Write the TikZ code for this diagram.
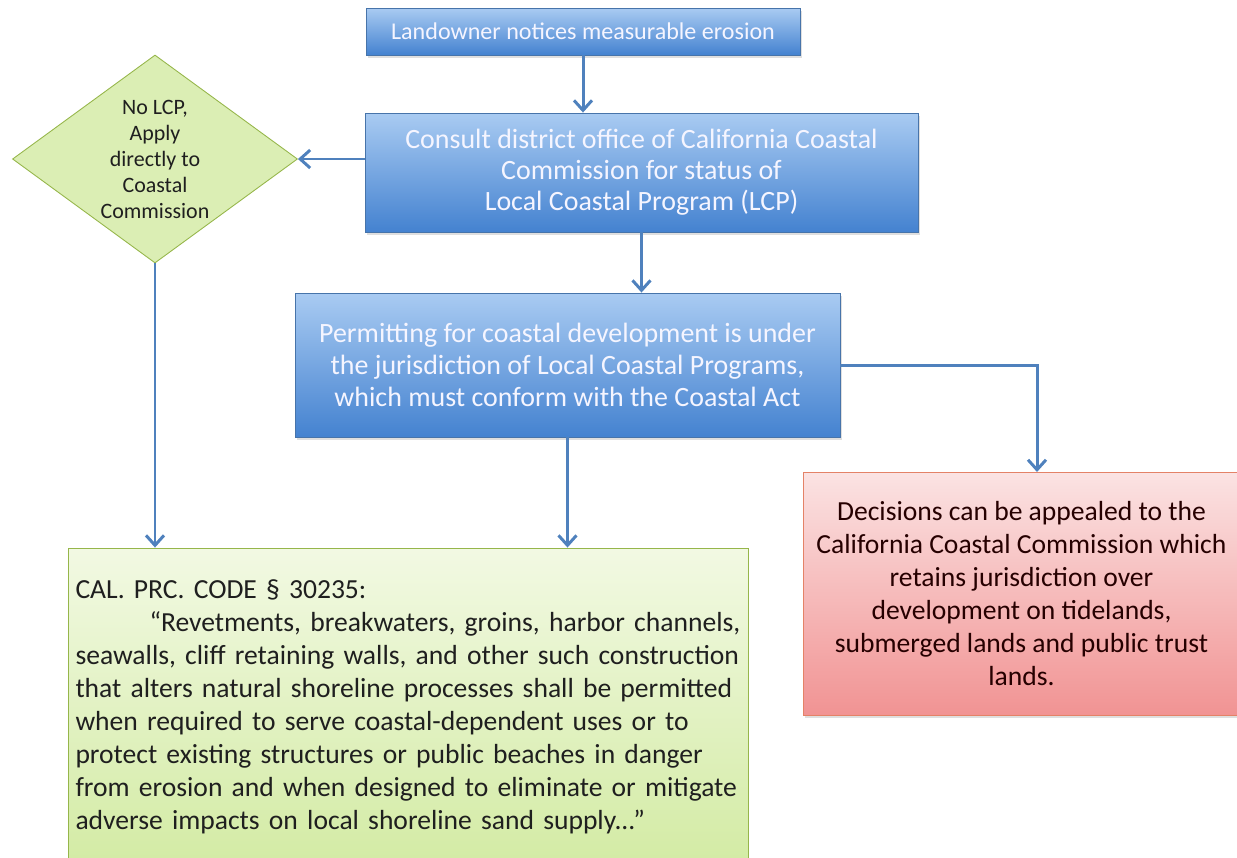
\documentclass[tikz,border=0pt]{standalone}
\usepackage{fontspec}
\setmainfont{Carlito}
\usetikzlibrary{shapes.geometric,arrows.meta,shadows}
\definecolor{lineblue}{HTML}{4F81BD}
\definecolor{bluetop}{HTML}{A9CBF2}
\definecolor{bluebot}{HTML}{4482D0}
\definecolor{greentop}{HTML}{F2F9E3}
\definecolor{greenbot}{HTML}{D3EBA4}
\definecolor{redtop}{HTML}{FBE3E3}
\definecolor{redbot}{HTML}{F19393}

\begin{document}
\begin{tikzpicture}
	[line width=1.7pt,
	 conn/.style={draw=lineblue, -{Straight Barb[length=2mm,width=3.6mm]}},
	 bluebox/.style={rectangle, draw=lineblue!90!black, line width=0.5pt, top color=bluetop, bottom color=bluebot,
		text=white!96!blue, align=center, inner sep=2pt,
		drop shadow={opacity=0.25, shadow xshift=0.4mm, shadow yshift=-0.6mm}},
	 greenbox/.style={rectangle, draw=olive!60!green!70, line width=0.5pt, top color=greentop, bottom color=greenbot,
		text=black!88, inner sep=2pt},
	 redbox/.style={rectangle, draw=red!40!brown!70, line width=0.5pt, top color=redtop, bottom color=redbot,
		text=black!85!red, align=center, inner sep=2pt,
		drop shadow={opacity=0.25, shadow xshift=0.4mm, shadow yshift=-0.6mm}},
	 choice/.style={diamond, draw=olive!60!green!70, line width=0.5pt, fill=greenbot!75!greentop,
		text=black!88, align=center, inner sep=0pt, shape aspect=1.38}]
	\useasboundingbox (0,0) rectangle (24.74,-17.14);

	\node[bluebox, minimum width=8.68cm, minimum height=0.94cm, font=\fontsize{13.7}{15}\selectfont] (notice) at (11.66,-0.63)
		{Landowner notices measurable erosion};
	\node[bluebox, minimum width=11.06cm, minimum height=2.38cm, font=\fontsize{15.9}{17.6}\selectfont] (consult) at (12.83,-3.45)
		{Consult district office of California Coastal\\ Commission for status of\\ Local Coastal Program (LCP)};
	\node[choice, minimum width=5.7cm, minimum height=4.16cm, font=\fontsize{12.5}{14.8}\selectfont] (nolcp) at (3.1,-3.18)
		{No LCP,\\ Apply\\ directly to\\ Coastal\\ Commission};
	\node[bluebox, minimum width=10.9cm, minimum height=2.88cm, font=\fontsize{15.9}{18}\selectfont] (permit) at (11.35,-7.3)
		{Permitting for coastal development is under\\ the jurisdiction of Local Coastal Programs,\\ which must conform with the Coastal Act};
	\node[greenbox, minimum width=13.6cm, minimum height=6.36cm, text width=13.3cm, align=left,
		font=\fontsize{15.7}{18.8}\selectfont] (code) at (8.16,-14.14)
		{CAL. PRC. CODE \S{} 30235:\\
		\hspace*{1.48cm}“Revetments, breakwaters, groins, harbor channels,\\
		seawalls, cliff retaining walls, and other such construction\\
		that alters natural shoreline processes shall be permitted\\
		when required to serve coastal-dependent uses or to\\
		protect existing structures or public beaches in danger\\
		from erosion and when designed to eliminate or mitigate\\
		adverse impacts on local shoreline sand supply...”};
	\node[redbox, minimum width=8.74cm, minimum height=4.86cm, font=\fontsize{15.7}{18.8}\selectfont] (appeal) at (20.43,-11.87)
		{Decisions can be appealed to the\\ California Coastal Commission which\\ retains jurisdiction over\\
		development on tidelands,\\ submerged lands and public trust\\ lands.};
	\coordinate (appealin) at (20.74,-9.44);

	\draw[conn] (notice.south) -- (notice.south |- consult.north);
	\draw[conn] (consult.west |- nolcp.east) -- (nolcp.east);
	\draw[conn] (consult.south) -- (consult.south |- permit.north);
	\draw[conn] (nolcp.south) -- (nolcp.south |- code.north);
	\draw[conn] (permit.south) -- (permit.south |- code.north);
	\draw[conn] (permit.east) -| (appealin);
\end{tikzpicture}
\end{document}
